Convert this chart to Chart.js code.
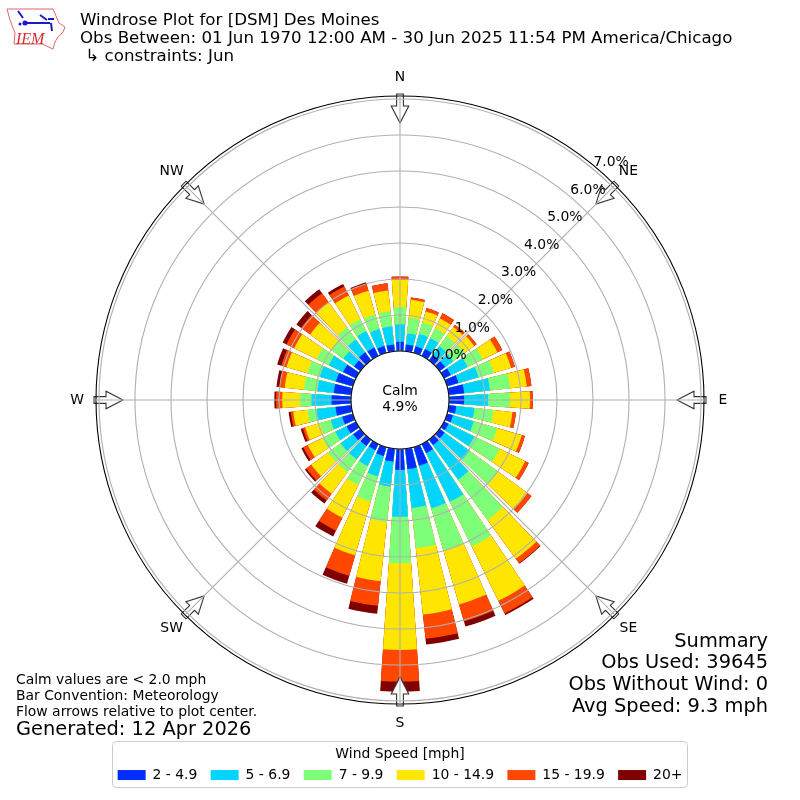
<!DOCTYPE html>
<html>
<head>
<meta charset="utf-8">
<title>Windrose Plot</title>
<script src="https://cdn.jsdelivr.net/npm/chart.js@4"></script>
<style>
  body { margin: 0; background: #fff; }
  canvas { display: block; }
</style>
</head>
<body>
<canvas id="rose" width="800" height="800"></canvas>
<script>
// direction in degrees, the N bar comes last because the first slice starts just past north
const directions = [10, 20, 30, 40, 50, 60, 70, 80, 90, 100, 110, 120, 130, 140, 150, 160, 170, 180,
  190, 200, 210, 220, 230, 240, 250, 260, 270, 280, 290, 300, 310, 320, 330, 340, 350, 360];

// percent of observations per speed bin
const speed2to5 = [.19, .19, .22, .19, .19, .21, .33, .43, .42, .21, .17, .14, .17, .19, .28, .54, .57, .58,
  .36, .26, .19, .22, .25, .29, .31, .44, .54, .49, .49, .40, .22, .28, .26, .20, .19, .26];
const speed5to7 = [.31, .36, .33, .30, .28, .52, .58, .72, .67, .51, .60, .80, .86, 1.19, 1.51, 1.23, 1.09, 1.30,
  .70, .59, .49, .46, .43, .35, .33, .53, .56, .46, .47, .44, .37, .44, .51, .49, .51, .48];
const speed7to10 = [.44, .34, .31, .35, .39, .47, .44, .56, .60, .53, .68, .78, .99, 1.38, 1.38, 1.22, 1.12, 1.29,
  .98, .72, .59, .43, .43, .40, .32, .25, .31, .37, .36, .38, .42, .41, .37, .42, .42, .48];
const speed10to15 = [.50, .31, .30, .31, .33, .45, .50, .47, .56, .53, .71, .79, 1.00, 1.34, 1.68, 1.56, 1.85, 2.41,
  1.66, 1.56, 1.01, .75, .58, .45, .42, .40, .50, .54, .60, .69, .72, .86, .73, .69, .58, .76];
const speed15to20 = [.06, .10, .16, .08, .08, .15, .11, .13, .08, .10, .09, .11, .14, .15, .39, .49, .68, .88,
  .69, .59, .40, .23, .17, .14, .07, .07, .17, .14, .15, .24, .31, .32, .28, .20, .20, .09];
const speed20plus = [0, 0, 0, 0, 0, 0, 0, 0, 0, 0, 0, 0, 0, .02, .05, .15, .16, .28,
  .22, .23, .18, .11, .05, .06, .06, .06, .05, .09, .12, .12, .16, .14, .08, .04, 0, 0];

const speedBins = [speed2to5, speed5to7, speed7to10, speed10to15, speed15to20, speed20plus];
const binNames = ["2 - 4.9", "5 - 6.9", "7 - 9.9", "10 - 14.9", "15 - 19.9", "20+"];
const binColors = ["#002cff", "#00d4ff", "#7dff7a", "#ffe600", "#ff4700", "#7f0000"];

const radialTicks = [0, 1, 2, 3, 4, 5, 6, 7];
const compass = ["N", "NE", "E", "SE", "S", "SW", "W", "NW"];
const titleLines = ["Windrose Plot for [DSM] Des Moines",
  "Obs Between: 01 Jun 1970 12:00 AM - 30 Jun 2025 11:54 PM America/Chicago",
  " ↳ constraints: Jun"];
const noteLines = ["Calm values are < 2.0 mph", "Bar Convention: Meteorology", "Flow arrows relative to plot center."];
const summaryLines = ["Summary", "Obs Used: 39645", "Obs Without Wind: 0", "Avg Speed: 9.3 mph"];

// axis range: 0% sits on the hole, the outer frame just past 7%
const rMin = -1.361;
const rMax = 7.083;
const barAngle = 7.8;
const gapAngle = 2.2;

Chart.defaults.font.family = "'DejaVu Sans'";
Chart.defaults.color = "#000";

// stacked wedges are overlaid, so every dataset holds the running total
const totals = directions.map(() => 0);
const stacks = speedBins.map(bin => {
  bin.forEach((v, i) => { totals[i] += v; });
  return totals.flatMap(t => [rMin, t]);
});

const text = (ctx, str, x, y, size, align, baseline) => {
  ctx.font = `${size}px 'DejaVu Sans'`;
  ctx.textAlign = align || "left";
  ctx.textBaseline = baseline || "middle";
  ctx.fillStyle = "#000";
  ctx.fillText(str, x, y);
};

const drawArrow = (ctx, cx, cy, deg) => {
  ctx.save();
  ctx.translate(cx, cy);
  ctx.rotate(deg * Math.PI / 180);
  ctx.beginPath();
  ctx.moveTo(-3.4, -306);
  ctx.lineTo(3.4, -306);
  ctx.lineTo(3.4, -294);
  ctx.lineTo(8.8, -294);
  ctx.lineTo(0, -277);
  ctx.lineTo(-8.8, -294);
  ctx.lineTo(-3.4, -294);
  ctx.closePath();
  ctx.fillStyle = "#fff";
  ctx.fill();
  ctx.strokeStyle = "#333";
  ctx.lineWidth = 1.1;
  ctx.stroke();
  ctx.restore();
};

const drawLogo = ctx => {
  ctx.save();
  ctx.strokeStyle = "#e06666";
  ctx.lineWidth = 1;
  ctx.beginPath();
  [[7, 9], [53, 9], [56, 16], [59, 23], [65, 27], [63, 32], [58, 37], [55, 42], [53, 49], [42, 44], [14, 44], [15, 33], [10, 20]]
    .forEach(([x, y], i) => (i ? ctx.lineTo(x, y) : ctx.moveTo(x, y)));
  ctx.closePath();
  ctx.stroke();
  ctx.strokeStyle = "#1a1acc";
  ctx.lineWidth = 2;
  ctx.beginPath();
  ctx.moveTo(25, 23);
  ctx.lineTo(50, 23);
  ctx.moveTo(48, 19);
  ctx.lineTo(54, 19);
  ctx.moveTo(51, 23);
  ctx.lineTo(52, 31);
  ctx.moveTo(18, 11);
  ctx.lineTo(23, 18);
  ctx.moveTo(40, 15);
  ctx.lineTo(47, 20);
  ctx.stroke();
  ctx.fillStyle = "#1a1acc";
  ctx.beginPath();
  ctx.arc(25, 23, 2.5, 0, Math.PI * 2);
  ctx.arc(20, 24, 1.5, 0, Math.PI * 2);
  ctx.fill();
  ctx.font = "italic 16px 'Liberation Serif'";
  ctx.fillStyle = "#d92b2b";
  ctx.textAlign = "left";
  ctx.textBaseline = "alphabetic";
  ctx.fillText("IEM", 16, 44);
  ctx.restore();
};

const roseDecor = {
  id: "roseDecor",
  afterDatasetsDraw(chart) {
    const { ctx, scales: { r } } = chart;
    compass.forEach((_, i) => drawArrow(ctx, r.xCenter, r.yCenter, i * 45));
  },
  afterDraw(chart) {
    const { ctx, scales: { r }, legend } = chart;
    const cx = r.xCenter;
    const cy = r.yCenter;

    // the hole in the middle, on top of the grid
    ctx.beginPath();
    ctx.arc(cx, cy, r.getDistanceFromCenterForValue(0), 0, Math.PI * 2);
    ctx.fillStyle = "#fff";
    ctx.fill();
    ctx.strokeStyle = "#000";
    ctx.lineWidth = 1.1;
    ctx.stroke();
    text(ctx, "Calm", cx, 391, 13.9, "center");
    text(ctx, "4.9%", cx, 407, 13.9, "center");

    // radial labels run out along 40 degrees
    const a = 40 * Math.PI / 180;
    radialTicks.forEach(v => {
      const d = r.getDistanceFromCenterForValue(v);
      text(ctx, v.toFixed(1) + "%", cx + d * Math.sin(a), cy - d * Math.cos(a), 13.9, "left", "bottom");
    });

    compass.forEach((name, i) => {
      const t = i * Math.PI / 4;
      text(ctx, name, cx + 323 * Math.sin(t), cy - 323 * Math.cos(t), 13.9, "center");
    });

    titleLines.forEach((line, i) => text(ctx, line, 80, 21 + i * 18, 16.67));
    noteLines.forEach((line, i) => text(ctx, line, 16, 680 + i * 16, 13.9));
    text(ctx, "Generated: 12 Apr 2026", 16, 730, 19.4);
    summaryLines.forEach((line, i) => text(ctx, line, 768, 641.5 + i * 21.9, 19.4, "right"));
    drawLogo(ctx);

    ctx.beginPath();
    ctx.roundRect(112.5, legend.top - 3.5, 575, 46, 4);
    ctx.strokeStyle = "#ccc";
    ctx.lineWidth = 1;
    ctx.stroke();
  }
};

new Chart(document.getElementById("rose"), {
  type: "polarArea",
  plugins: [roseDecor],
  data: {
    labels: directions.flatMap(d => ["", String(d)]),
    datasets: stacks.map((data, i) => ({
      label: binNames[i],
      data: data,
      backgroundColor: binColors[i],
      borderWidth: 0,
      angle: c => (c.index % 2 ? barAngle : (c.index === 0 ? gapAngle / 2 : gapAngle))
    }))
  },
  options: {
    responsive: false,
    animation: false,
    layout: { padding: { left: 96, right: 96, top: 55.5, bottom: 8 } },
    plugins: {
      tooltip: { enabled: false },
      legend: {
        position: "bottom",
        title: {
          display: true,
          text: "Wind Speed [mph]",
          font: { size: 13.9 },
          padding: { top: 2, bottom: -9 }
        },
        labels: {
          boxWidth: 28,
          boxHeight: 10,
          padding: 13.3,
          font: { size: 13.9 },
          generateLabels: () => binNames.map((name, i) => ({
            text: name,
            fillStyle: binColors[i],
            strokeStyle: binColors[i],
            lineWidth: 0,
            hidden: false,
            datasetIndex: i
          }))
        }
      }
    },
    scales: {
      r: {
        min: rMin,
        max: rMax,
        startAngle: 5,
        afterBuildTicks: axis => {
          axis.ticks = radialTicks.concat(rMax).map(v => ({ value: v }));
        },
        ticks: { display: false },
        grid: {
          z: 1,
          circular: true,
          lineWidth: 1.1,
          color: c => (c.tick && c.tick.value === rMax ? "#000" : "#b0b0b0")
        },
        angleLines: {
          display: true,
          color: "#b0b0b0",
          lineWidth: c => ((5 + c.index * 5) % 45 === 0 ? 1.1 : 0)
        },
        pointLabels: { display: false }
      }
    }
  }
});
</script>
</body>
</html>
